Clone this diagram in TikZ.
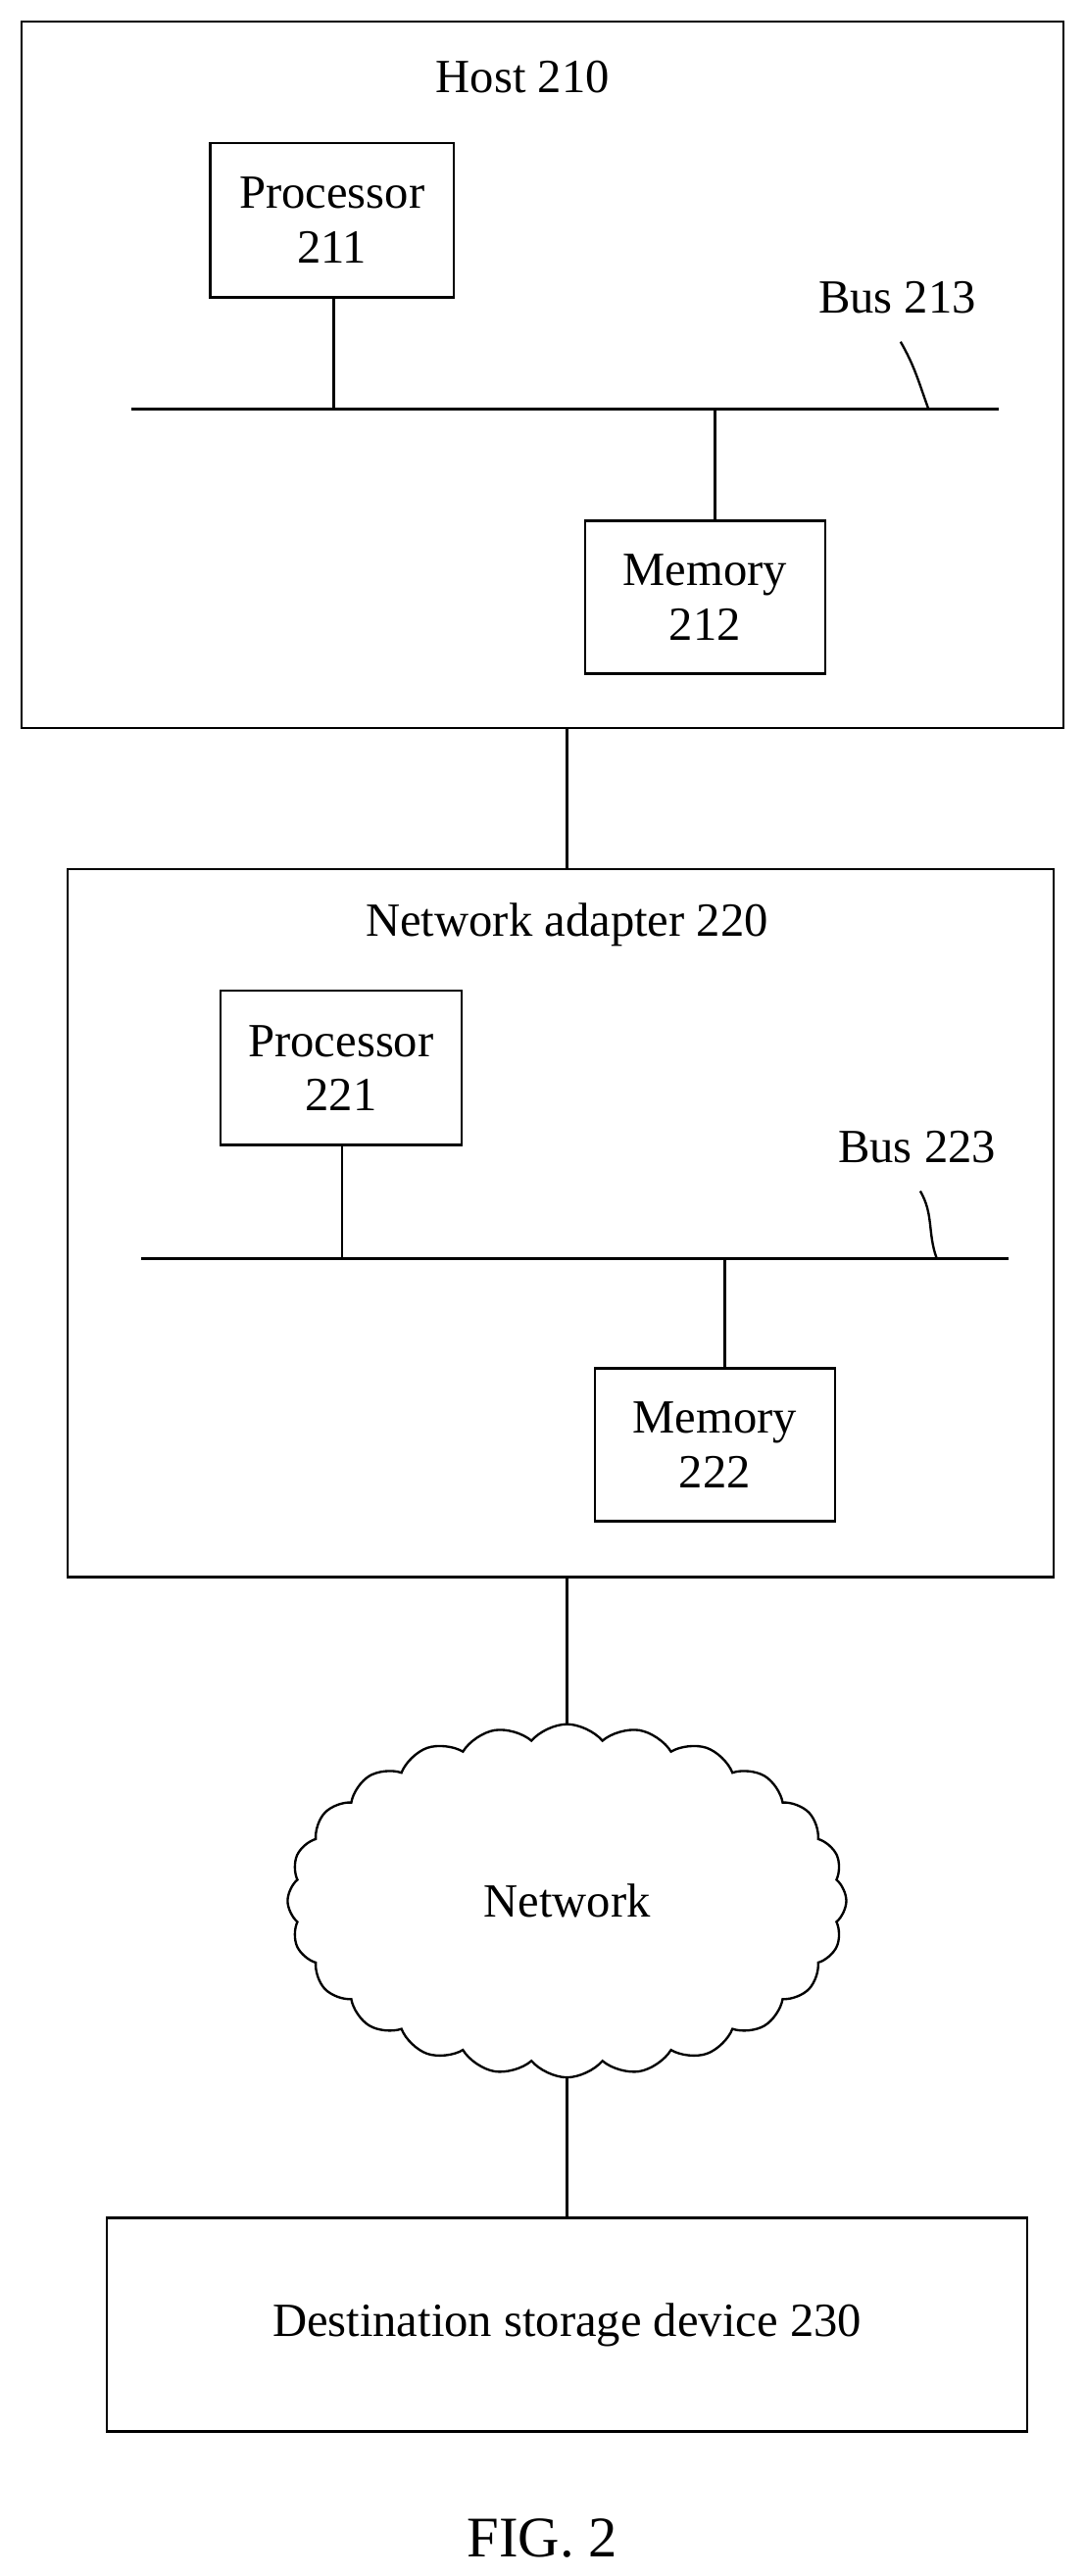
\documentclass[tikz,border=0pt]{standalone}
\usepackage{fontspec}
\setmainfont{Liberation Serif}
\usetikzlibrary{shapes.symbols}
\begin{document}
\begin{tikzpicture}[x=1pt,y=-1pt,line width=1.4pt,
    box/.style={draw,rectangle,align=center,font=\fontsize{29}{33}\selectfont},
    lbl/.style={font=\fontsize{29}{33}\selectfont}]
\useasboundingbox (0,0) rectangle (660,1568);
% host
\node[box,minimum width=634,minimum height=430] (host) at (330,228) {};
\node[lbl] (hostlbl) at (318,47) {Host 210};
\node[box,minimum width=148,minimum height=94] (proc1) at (202,134) {Processor\\211};
\node[box,minimum width=146,minimum height=93] (mem1) at (429,363.5) {Memory\\212};
\coordinate (bus1a) at (80,249);
\coordinate (bus1b) at (608,249);
\draw (bus1a) -- (bus1b);
\draw (proc1.south -| 203,0) -- (203,249);
\draw (435,249) -- (mem1.north -| 435,0);
\node[lbl] (bus1lbl) at (546,181) {Bus 213};
\draw (548,208) to[out=-60,in=110] (565,249);
% network adapter
\node[box,minimum width=600,minimum height=431] (nic) at (341,744.5) {};
\node[lbl] (niclbl) at (345,563) {Network adapter 220};
\node[box,minimum width=147,minimum height=94] (proc2) at (207.5,650) {Processor\\221};
\node[box,minimum width=146,minimum height=93] (mem2) at (435,879.5) {Memory\\222};
\draw (86,766) -- (614,766);
\draw (proc2.south -| 208,0) -- (208,766);
\draw (441,766) -- (mem2.north -| 441,0);
\node[lbl] (bus2lbl) at (558,698) {Bus 223};
\draw (560,725) to[out=-60,in=110] (570,766);
% network and storage
\node[draw,cloud,cloud puffs=24,cloud puff arc=100,aspect=1.6,minimum width=340,minimum height=215,lbl] (net) at (345,1157) {Network};
\node[box,minimum width=560,minimum height=130] (dest) at (345,1415) {Destination storage device 230};
\draw (host.south -| 345,0) -- (nic.north -| 345,0);
\draw (nic.south -| 345,0) -- (net.north);
\draw (net.south) -- (dest.north -| 345,0);
\node[font=\fontsize{35}{40}\selectfont] (fig) at (330,1545) {FIG. 2};
\end{tikzpicture}
\end{document}
